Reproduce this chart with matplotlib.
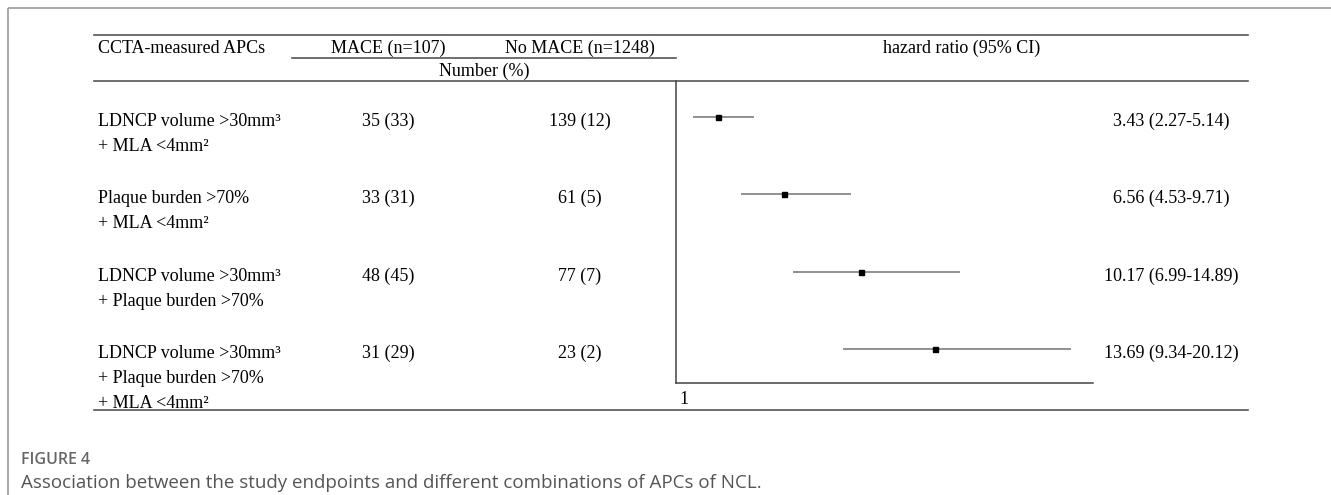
import matplotlib
matplotlib.use("Agg")
import matplotlib.pyplot as plt
from matplotlib.patches import Rectangle

# table data
row_labels = [
    ["LDNCP volume >30mm³", "+ MLA <4mm²"],
    ["Plaque burden >70%", "+ MLA <4mm²"],
    ["LDNCP volume >30mm³", "+ Plaque burden >70%"],
    ["LDNCP volume >30mm³", "+ Plaque burden >70%", "+ MLA <4mm²"],
]
mace_n = [35, 33, 48, 31]
mace_pct = [33, 31, 45, 29]
nomace_n = [139, 61, 77, 23]
nomace_pct = [12, 5, 7, 2]
hr = [3.43, 6.56, 10.17, 13.69]
hr_lo = [2.27, 4.53, 6.99, 9.34]
hr_hi = [5.14, 9.71, 14.89, 20.12]

W, H = 1331, 495
SERIF = "Liberation Serif"
FS = 13
RULE = "#555555"


def main():
    fig = plt.figure(figsize=(W / 100, H / 100), dpi=100)
    fig.patch.set_facecolor("white")

    # background axes in pixel units (y down)
    ax = fig.add_axes([0, 0, 1, 1])
    ax.set_xlim(0, W)
    ax.set_ylim(H, 0)
    ax.axis("off")

    # outer frame
    ax.add_patch(Rectangle((8, 8), W + 20, H + 20, fill=False,
                           edgecolor="#9a9a9a", lw=1.2))

    # table rules
    left, right = 94, 1248
    ax.plot([left, right], [35, 35], color=RULE, lw=1.2)
    ax.plot([292, 676], [58, 58], color=RULE, lw=1.2)
    ax.plot([left, right], [81, 81], color=RULE, lw=1.2)
    ax.plot([left, right], [410, 410], color=RULE, lw=1.2)

    # header
    col1_x, col2_x, hr_x = 388, 580, 1171
    ax.text(98, 53, "CCTA-measured APCs", family=SERIF, fontsize=FS,
            va="baseline", ha="left")
    ax.text(col1_x, 53, "MACE (n=107)", family=SERIF, fontsize=FS,
            va="baseline", ha="center")
    ax.text(col2_x, 53, "No MACE (n=1248)", family=SERIF, fontsize=FS,
            va="baseline", ha="center")
    ax.text(962, 53, "hazard ratio (95% CI)", family=SERIF, fontsize=FS,
            va="baseline", ha="center")
    ax.text(484, 76, "Number (%)", family=SERIF, fontsize=FS,
            va="baseline", ha="center")

    # forest plot axes
    ax_top, ax_bot, ax_l, ax_r = 81, 383, 676, 1093
    row0, row_step = 117, 77.3
    fa = fig.add_axes([ax_l / W, 1 - ax_bot / H,
                       (ax_r - ax_l) / W, (ax_bot - ax_top) / H])
    fa.set_xlim(1.444, 21.16)
    fa.set_ylim((ax_bot - row0) / row_step, (ax_top - row0) / row_step)
    fa.patch.set_alpha(0)
    for s in ["top", "right"]:
        fa.spines[s].set_visible(False)
    for s in ["left", "bottom"]:
        fa.spines[s].set_color("#444444")
        fa.spines[s].set_linewidth(1.1)
    fa.set_xticks([])
    fa.set_yticks([])

    rows = list(range(len(hr)))
    fa.hlines(rows, hr_lo, hr_hi, color="#888888", lw=1.3)
    fa.plot(hr, rows, "s", color="black", markersize=3.6)

    ax.text(ax_l + 3, 404, "1", family=SERIF, fontsize=FS,
            va="baseline", ha="left")

    # table rows
    for i in rows:
        base = row0 + row_step * i + 9
        for j, line in enumerate(row_labels[i]):
            ax.text(98, base + 25 * j, line, family=SERIF, fontsize=FS,
                    va="baseline", ha="left")
        ax.text(col1_x, base, f"{mace_n[i]} ({mace_pct[i]})", family=SERIF,
                fontsize=FS, va="baseline", ha="center")
        ax.text(col2_x, base, f"{nomace_n[i]} ({nomace_pct[i]})",
                family=SERIF, fontsize=FS, va="baseline", ha="center")
        ax.text(hr_x, base,
                f"{hr[i]:.2f} ({hr_lo[i]:.2f}-{hr_hi[i]:.2f})",
                family=SERIF, fontsize=FS, va="baseline", ha="center")

    # caption
    ax.text(21, 464, "FIGURE 4", family="Open Sans", fontsize=11.5,
            weight="semibold", color="#666666", va="baseline", ha="left")
    ax.text(21, 488,
            "Association between the study endpoints and different "
            "combinations of APCs of NCL.",
            family="Open Sans", fontsize=13.5, color="#555555",
            va="baseline", ha="left")

    fig.savefig("out.png", dpi=100)


if __name__ == "__main__":
    main()
